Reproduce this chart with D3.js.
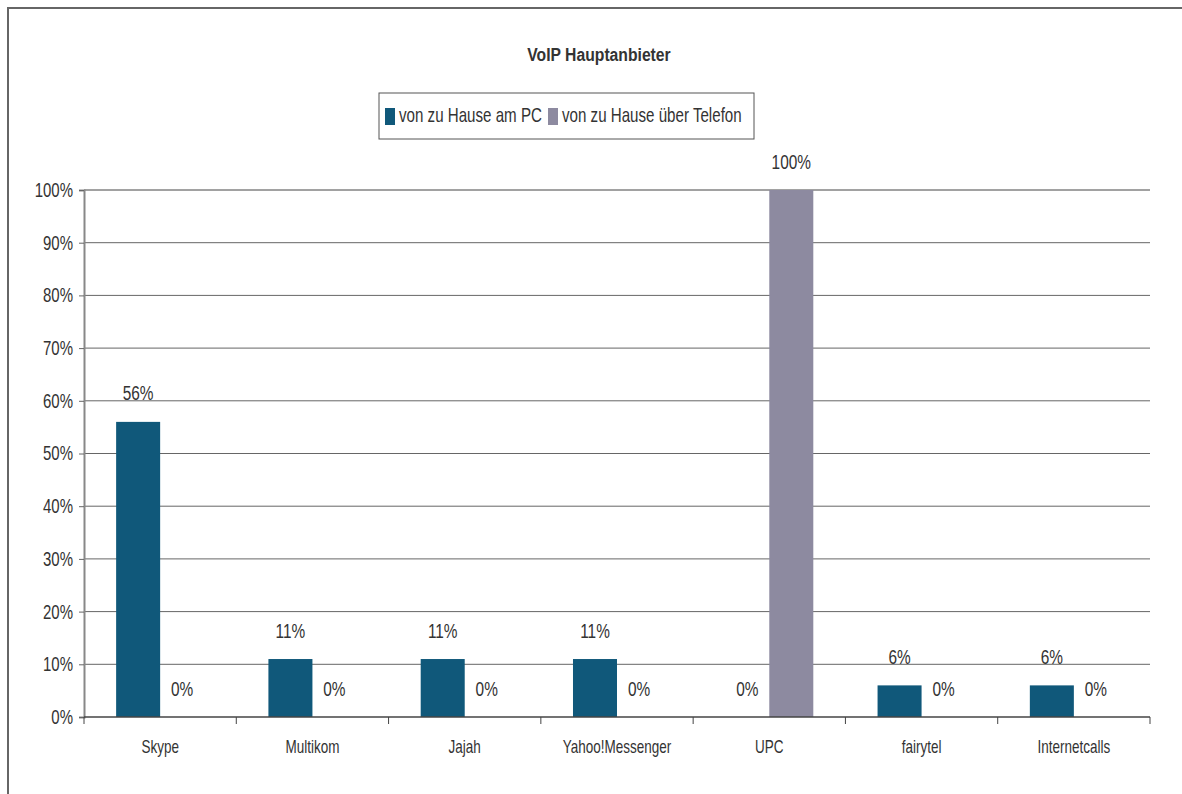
<!DOCTYPE html>
<html><head><meta charset="utf-8">
<script src="https://cdn.jsdelivr.net/npm/d3@7"></script>
<style>
body{margin:0;background:#fff;}
text{font-family:"Liberation Sans",Arial,sans-serif;fill:#333;}
</style></head><body>
<svg id="c" width="1182" height="794"></svg>
<script>
const categories = ["Skype","Multikom","Jajah","Yahoo!Messenger","UPC","fairytel","Internetcalls"];
const seriesNames = ["von zu Hause am PC","von zu Hause über Telefon"];
const seriesPC = [56,11,11,11,0,6,6];
const seriesTel = [0,0,0,0,100,0,0];
const yTicks = [0,10,20,30,40,50,60,70,80,90,100];
const colors = ["#10587a","#8d8aa0"];

const svg = d3.select("#c");
svg.append("path").attr("d","M8,794 V8 H1182").attr("fill","none").attr("stroke","#666").attr("stroke-width",2);

// helper: condensed text placed at (X,Y)
function ctext(parent, X, Y, str, size, sx, anchor, weight){
  return parent.append("text").attr("transform",`translate(${X},${Y}) scale(${sx},1)`)
    .attr("font-size",size).attr("text-anchor",anchor||"start")
    .attr("font-weight",weight||"normal").text(str);
}

const L=84,R=1150,T=190,B=717;
const x = d3.scaleBand().domain(categories).range([L,R]);
const sub = d3.scaleBand().domain([0,1]).range([0,x.bandwidth()]).paddingInner(0).paddingOuter(0.73);
const y = d3.scaleLinear().domain([0,100]).range([B,T]);

// gridlines
svg.append("g").selectAll("line").data(yTicks.filter(d=>d>0)).join("line")
  .attr("x1",L).attr("x2",R).attr("y1",d=>y(d)).attr("y2",d=>y(d))
  .attr("stroke",d=>d===100?"#444":"#666").attr("stroke-width",1);

// y axis
const ya = svg.append("g").attr("transform",`translate(${L},0)`)
  .call(d3.axisLeft(y).tickValues(yTicks).tickFormat(d=>d+"%").tickSize(5).tickPadding(6));
ya.select(".domain").attr("stroke","#888").attr("stroke-width",2);
ya.selectAll(".tick line").attr("stroke","#666");
ya.selectAll(".tick text").attr("font-size",20).attr("fill","#333")
  .attr("x",-11/0.75).attr("transform","scale(0.75,1)");

// bars
const data = categories.map((c,i)=>({c,vals:[seriesPC[i],seriesTel[i]]}));
const g = svg.append("g").selectAll("g").data(data).join("g").attr("transform",d=>`translate(${x(d.c)},0)`);
g.selectAll("rect").data(d=>d.vals.map((v,k)=>({v,k}))).join("rect")
  .attr("x",d=>sub(d.k)).attr("width",sub.bandwidth())
  .attr("y",d=>y(d.v)).attr("height",d=>B-y(d.v)).attr("fill",d=>colors[d.k]);
g.each(function(d){
  const gg=d3.select(this);
  d.vals.forEach((v,k)=>{
    ctext(gg, sub(k)+sub.bandwidth()/2, y(v)-21.5, v+"%", 20, 0.77, "middle");
  });
});

// x axis
svg.append("line").attr("x1",L).attr("x2",R).attr("y1",B).attr("y2",B).attr("stroke","#444").attr("stroke-width",1.5);
const xa = svg.append("g").attr("transform",`translate(0,${B})`)
  .call(d3.axisBottom(x).tickSize(0).tickPadding(0));
xa.select(".domain").remove();
xa.selectAll(".tick text").remove();
xa.selectAll(".tick").each(function(c){
  ctext(d3.select(this), 0, 36, c, 18, 0.75, "middle");
});
svg.append("g").selectAll("line").data(d3.range(categories.length+1)).join("line")
  .attr("x1",i=>L+i*x.bandwidth()).attr("x2",i=>L+i*x.bandwidth())
  .attr("y1",B).attr("y2",B+7).attr("stroke","#444");

// title
ctext(svg, 599, 61, "VoIP Hauptanbieter", 18.6, 0.845, "middle", "bold");

// legend
const lg = svg.append("g");
lg.append("rect").attr("x",379).attr("y",93).attr("width",375).attr("height",46)
  .attr("fill","#fff").attr("stroke","#555").attr("stroke-width",1);
const lx=[385,548];
seriesNames.forEach((n,i)=>{
  lg.append("rect").attr("x",lx[i]).attr("y",108).attr("width",10).attr("height",17).attr("fill",colors[i]);
  ctext(lg, lx[i]+14, 122, n, 20, 0.757, "start");
});
</script></body></html>
